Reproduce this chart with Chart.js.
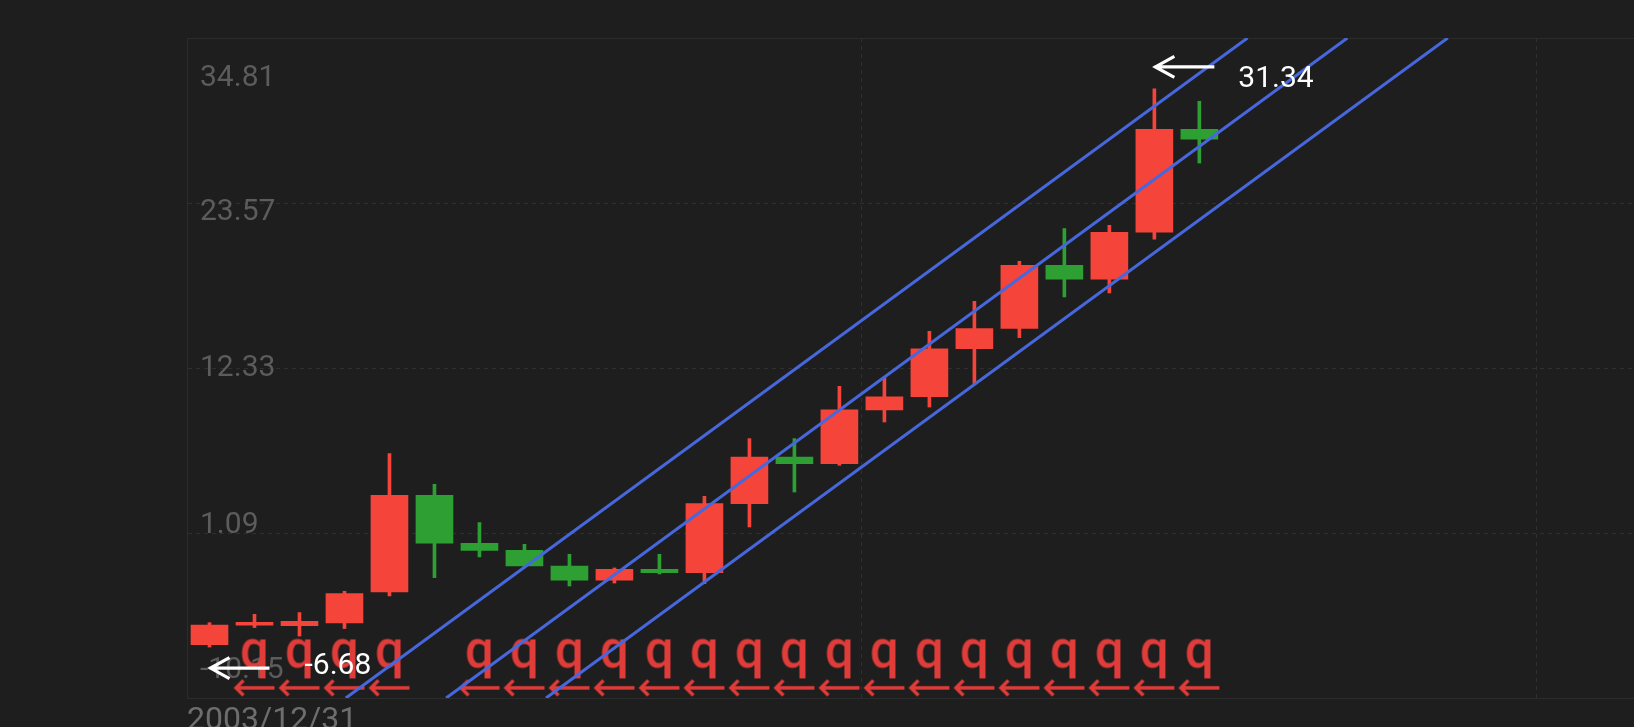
<!DOCTYPE html>
<html>
<head>
<meta charset="utf-8">
<script src="https://cdn.jsdelivr.net/npm/chart.js@4.4.1/dist/chart.umd.min.js"></script>
<style>
  html, body { margin: 0; padding: 0; background: #1e1e1e; overflow: hidden; }
  #wrap { width: 1634px; height: 727px; }
</style>
</head>
<body>
<div id="wrap"><canvas id="kline" width="1634" height="727"></canvas></div>
<script>
// candle values, one per period (index 0 = 2003/12/31)
const open  = [-6.51, -5.19, -5.22, -5.04, -2.93, 3.66, 0.39, -0.09, -1.16, -2.13, -1.38, -1.61, 3.09, 6.27, 5.82, 9.48, 10.37, 13.64, 15.02, 19.32, 18.38, 21.58, 28.58];
const close = [-5.19, -5.00, -4.92, -3.04, 3.66, 0.39, -0.09, -1.16, -2.13, -1.38, -1.61, 3.09, 6.27, 5.82, 9.48, 10.37, 13.64, 15.02, 19.32, 18.38, 21.58, 28.58, 27.91];
const high  = [-5.02, -4.45, -4.33, -2.88, 6.50, 4.41, 1.80, 0.32, -0.36, -1.29, -0.36, 3.59, 7.52, 7.52, 11.08, 11.72, 14.83, 16.87, 19.60, 21.83, 22.05, 31.34, 30.50];
const low   = [-6.68, -5.35, -5.93, -5.42, -3.20, -1.95, -0.54, -1.16, -2.52, -2.32, -1.70, -2.36, 1.50, 3.88, 5.70, 8.65, 9.67, 11.27, 14.40, 17.17, 17.44, 21.10, 26.29];

// signal markers ("q" and arrow) under the candles
const signalIdx = [1, 2, 3, 4, 6, 7, 8, 9, 10, 11, 12, 13, 14, 15, 16, 17, 18, 19, 20, 21, 22];
const qLevel = -7.52;
const arrowLevel = -9.46;

// parallel channel lines: x (index) at the bottom and top of the range
const channelX = [[3.03, 23.07], [5.26, 25.29], [7.48, 27.52]];
const channelY = [-10.15, 34.81];

// axes
const yTicks = [-10.15, 1.09, 12.33, 23.57, 34.81];
const xTickPos = [-0.5, 14.5, 29.5];
const xTickLabels = ['2003/12/31', '', ''];

const UP = '#f5443a';
const DOWN = '#2ea033';
const SIGNAL = '#e03c3a';

function makeQ() {
    const c = document.createElement('canvas');
    c.width = 44; c.height = 56;
    const g = c.getContext('2d');
    g.font = '500 51px Roboto';
    g.fillStyle = SIGNAL;
    g.textAlign = 'center';
    g.textBaseline = 'alphabetic';
    g.fillText('q', 22, 28 + 0.16 * 51);
    return c;
}

function makeArrow() {
    const c = document.createElement('canvas');
    c.width = 44; c.height = 20;
    const g = c.getContext('2d');
    g.strokeStyle = SIGNAL;
    g.lineWidth = 3.4;
    g.beginPath();
    g.moveTo(3, 10); g.lineTo(42, 10);
    g.moveTo(11, 2.5); g.lineTo(3.5, 10); g.lineTo(11, 17.5);
    g.stroke();
    return c;
}

function whiteArrow(ctx, x, y) {
    ctx.beginPath();
    ctx.moveTo(x, y); ctx.lineTo(x + 60, y);
    ctx.moveTo(x + 20, y - 10.5); ctx.lineTo(x + 1, y); ctx.lineTo(x + 20, y + 10.5);
    ctx.stroke();
}

const yLabelShift = [-28, -8, 0, 9, 40];

const decor = {
    id: 'decor',
    beforeDatasetsDraw(chart) {
        const {ctx, chartArea: a, scales: {y}} = chart;
        ctx.save();
        ctx.strokeStyle = '#2c2c2c';
        ctx.lineWidth = 1;
        ctx.beginPath();
        ctx.moveTo(a.left, a.top + 0.5);
        ctx.lineTo(a.right, a.top + 0.5);
        ctx.stroke();
        ctx.font = '30px Roboto';
        ctx.fillStyle = '#5c5c5c';
        ctx.textAlign = 'left';
        ctx.textBaseline = 'middle';
        yTicks.forEach((v, i) => {
            ctx.fillText(v.toFixed(2), a.left + 13, y.getPixelForValue(v) + yLabelShift[i]);
        });
        ctx.restore();
    },
    afterDatasetsDraw(chart) {
        const {ctx, scales: {x, y}} = chart;
        const maxHigh = Math.max(...high), iMax = high.indexOf(maxHigh);
        const minLow = Math.min(...low), iMin = low.indexOf(minLow);
        ctx.save();
        ctx.strokeStyle = '#ffffff';
        ctx.fillStyle = '#ffffff';
        ctx.lineWidth = 3.2;
        ctx.font = '30px Roboto';
        ctx.textAlign = 'left';
        ctx.textBaseline = 'middle';
        let px = x.getPixelForValue(iMax), py = y.getPixelForValue(maxHigh);
        whiteArrow(ctx, px, py - 22);
        ctx.fillText(maxHigh.toFixed(2), px + 84, py - 9);
        px = x.getPixelForValue(iMin); py = y.getPixelForValue(minLow);
        whiteArrow(ctx, px, py + 21);
        ctx.fillText(minLow.toFixed(2), px + 95, py + 19);
        ctx.restore();
    }
};

function draw() {
    const colors = open.map((o, i) => close[i] >= o ? UP : DOWN);
    const qImg = makeQ();
    const arrowImg = makeArrow();

    const datasets = [];
    channelX.forEach(xs => {
        datasets.push({
            type: 'line',
            data: xs.map((v, k) => ({x: v, y: channelY[k]})),
            borderColor: '#4767dd',
            borderWidth: 3,
            pointRadius: 0,
            fill: false,
            order: 1
        });
    });
    datasets.push({
        type: 'scatter',
        data: signalIdx.map(i => ({x: i, y: qLevel})),
        pointStyle: qImg,
        pointRadius: 5,
        order: 2
    });
    datasets.push({
        type: 'scatter',
        data: signalIdx.map(i => ({x: i, y: arrowLevel})),
        pointStyle: arrowImg,
        pointRadius: 5,
        order: 2
    });
    datasets.push({
        type: 'bar',
        data: open.map((o, i) => ({x: i, y: [o, close[i]]})),
        backgroundColor: colors,
        barThickness: 37,
        grouped: false,
        order: 3
    });
    datasets.push({
        type: 'bar',
        data: high.map((h, i) => ({x: i, y: [low[i], h]})),
        backgroundColor: colors,
        barThickness: 3,
        grouped: false,
        order: 4
    });

    new Chart('kline', {
        type: 'bar',
        data: {datasets: datasets},
        options: {
            responsive: false,
            animation: false,
            devicePixelRatio: 1,
            events: [],
            layout: {autoPadding: false, padding: {left: 187, top: 38, right: 0, bottom: 0}},
            plugins: {legend: {display: false}, tooltip: {enabled: false}},
            scales: {
                x: {
                    type: 'linear',
                    min: -0.5,
                    max: 31.66,
                    offset: false,
                    afterBuildTicks: s => { s.ticks = xTickPos.map(v => ({value: v})); },
                    afterFit: s => { s.height = 29; s.paddingLeft = 0; s.paddingRight = 0; },
                    grid: {color: '#2f2f2f', drawTicks: false, offset: false},
                    border: {color: '#2c2c2c', dash: [4, 4]},
                    ticks: {
                        align: 'start',
                        color: '#6e6e6e',
                        font: {family: 'Roboto', size: 32},
                        padding: 4,
                        maxRotation: 0,
                        autoSkip: false,
                        callback: (v, i) => xTickLabels[i]
                    }
                },
                y: {
                    type: 'linear',
                    min: -10.15,
                    max: 34.81,
                    afterBuildTicks: s => { s.ticks = yTicks.map(v => ({value: v})); },
                    afterFit: s => { s.width = 0; s.paddingTop = 0; s.paddingBottom = 0; },
                    grid: {color: '#2f2f2f', drawTicks: false},
                    border: {color: '#2c2c2c', dash: [4, 4]},
                    ticks: {display: false}
                }
            }
        },
        plugins: [decor]
    });
}

Promise.all([document.fonts.load('500 51px Roboto'), document.fonts.load('30px Roboto')])
    .catch(() => null)
    .then(draw);
</script>
</body>
</html>
